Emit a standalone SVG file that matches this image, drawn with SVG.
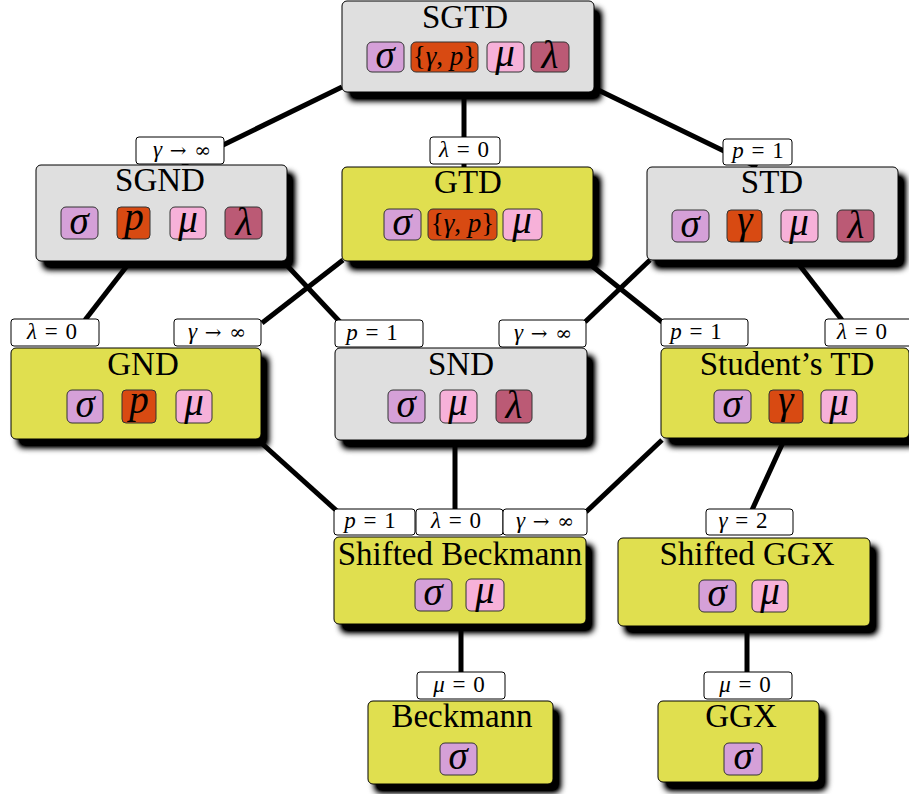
<svg xmlns="http://www.w3.org/2000/svg" width="909" height="794" viewBox="0 0 909 794">
<defs>
<filter id="sh" x="-10%" y="-10%" width="130%" height="140%">
<feGaussianBlur in="SourceAlpha" stdDeviation="3"/>
<feOffset dx="7" dy="8" result="b"/>
<feComponentTransfer in="b" result="c"><feFuncA type="linear" slope="1.4"/></feComponentTransfer>
<feMerge><feMergeNode in="c"/><feMergeNode in="SourceGraphic"/></feMerge>
</filter>
<style>
.gray{fill:#dfdfdf;stroke:#000;stroke-width:1;filter:url(#sh)}
.yel{fill:#e0df50;stroke:#000;stroke-width:1;filter:url(#sh)}
.title{font-family:"Liberation Serif","DejaVu Serif",serif;font-size:33px;text-anchor:middle;fill:#000}
.b{stroke:#333;stroke-width:1}
.sig{fill:#d5a0d8}.ora{fill:#d84a12}.mu{fill:#f7b1d9}.lam{fill:#bb5a75}
.sym{font-family:"Liberation Serif","DejaVu Serif",serif;font-style:italic;font-size:39px;text-anchor:middle;fill:#000}
.set{font-family:"Liberation Serif","DejaVu Serif",serif;font-size:27px;text-anchor:middle;fill:#000}
.it{font-style:italic}
.ar{font-family:"DejaVu Serif",serif;font-size:20px}
.edge{stroke:#000;stroke-width:5;fill:none}
.lb{fill:#fff;stroke:#000;stroke-width:1}
.lt{font-family:"Liberation Serif","DejaVu Serif",serif;font-size:23px;text-anchor:middle;fill:#000;word-spacing:2px}
</style>
</defs>
<rect width="909" height="794" fill="#fff"/>
<g id="connectors">
<line class="edge" x1="342" y1="87" x2="182" y2="165"/>
<line class="edge" x1="464" y1="92" x2="464" y2="167"/>
<line class="edge" x1="594" y1="88" x2="757" y2="167"/>
<line class="edge" x1="130" y1="262" x2="85" y2="320"/>
<line class="edge" x1="280" y1="258" x2="340" y2="322"/>
<line class="edge" x1="343" y1="260" x2="262" y2="323"/>
<line class="edge" x1="587" y1="262" x2="662" y2="322"/>
<line class="edge" x1="650" y1="260" x2="585" y2="322"/>
<line class="edge" x1="797" y1="262" x2="842" y2="320"/>
<line class="edge" x1="258" y1="440" x2="338" y2="512"/>
<line class="edge" x1="455" y1="440" x2="455" y2="510"/>
<line class="edge" x1="662" y1="440" x2="586" y2="512"/>
<line class="edge" x1="785" y1="438" x2="752" y2="510"/>
<line class="edge" x1="461" y1="624" x2="461" y2="672"/>
<line class="edge" x1="747" y1="626" x2="747" y2="672"/>
</g>
<g id="SGTD">
<rect class="gray" x="342" y="1" width="252" height="91" rx="5"/>
<text class="title" x="465" y="28">SGTD</text>
<rect class="b sig" x="367" y="42" width="37" height="30" rx="5"/><text class="sym" x="385" y="68">σ</text>
<rect class="b ora" x="411" y="42" width="67" height="30" rx="5"/><text class="set" x="444.500" y="65">{<tspan class="it">γ</tspan>, <tspan class="it">p</tspan>}</text>
<rect class="b mu" x="487" y="42" width="37" height="30" rx="5"/><text class="sym" x="505" y="66">μ</text>
<rect class="b lam" x="531" y="42" width="38" height="30" rx="5"/><text class="sym" x="550" y="68">λ</text>
</g>
<g id="SGND">
<rect class="gray" x="36" y="165" width="251" height="96" rx="5"/>
<text class="title" x="160" y="191">SGND</text>
<rect class="b sig" x="61" y="207" width="37" height="32" rx="5"/><text class="sym" x="79" y="234">σ</text>
<rect class="b ora" x="117" y="207" width="33" height="32" rx="4"/><text class="sym" x="134" y="230">p</text>
<rect class="b mu" x="170" y="207" width="36" height="32" rx="5"/><text class="sym" x="188" y="232">μ</text>
<rect class="b lam" x="225" y="207" width="37" height="32" rx="5"/><text class="sym" x="244" y="235">λ</text>
</g>
<g id="GTD">
<rect class="yel" x="342" y="167" width="251" height="94" rx="5"/>
<text class="title" x="468" y="193">GTD</text>
<rect class="b sig" x="384" y="209" width="37" height="31" rx="5"/><text class="sym" x="402" y="235">σ</text>
<rect class="b ora" x="428" y="209" width="69" height="31" rx="5"/><text class="set" x="462.500" y="232">{<tspan class="it">γ</tspan>, <tspan class="it">p</tspan>}</text>
<rect class="b mu" x="503" y="209" width="39" height="31" rx="5"/><text class="sym" x="522" y="233">μ</text>
</g>
<g id="STD">
<rect class="gray" x="647" y="167" width="251" height="93" rx="5"/>
<text class="title" x="772" y="193">STD</text>
<rect class="b sig" x="672" y="210" width="37" height="32" rx="5"/><text class="sym" x="690" y="237">σ</text>
<rect class="b ora" x="727" y="210" width="35" height="32" rx="4"/><text class="sym" x="745" y="233">γ</text>
<rect class="b mu" x="781" y="210" width="37" height="32" rx="5"/><text class="sym" x="799" y="235">μ</text>
<rect class="b lam" x="837" y="210" width="37" height="32" rx="5"/><text class="sym" x="856" y="238">λ</text>
</g>
<g id="GND">
<rect class="yel" x="11" y="348" width="250" height="91" rx="5"/>
<text class="title" x="143" y="375">GND</text>
<rect class="b sig" x="67" y="390" width="36" height="33" rx="5"/><text class="sym" x="85" y="417">σ</text>
<rect class="b ora" x="122" y="390" width="34" height="33" rx="4"/><text class="sym" x="139" y="413">p</text>
<rect class="b mu" x="176" y="390" width="36" height="33" rx="5"/><text class="sym" x="194" y="415">μ</text>
</g>
<g id="SND">
<rect class="gray" x="335" y="348" width="252" height="92" rx="5"/>
<text class="title" x="461" y="375">SND</text>
<rect class="b sig" x="388" y="390" width="37" height="33" rx="5"/><text class="sym" x="406" y="417">σ</text>
<rect class="b mu" x="440" y="390" width="37" height="33" rx="5"/><text class="sym" x="458" y="415">μ</text>
<rect class="b lam" x="496" y="390" width="36" height="33" rx="5"/><text class="sym" x="514" y="418">λ</text>
</g>
<g id="StudentsTD">
<rect class="yel" x="661" y="348" width="248" height="90" rx="5"/>
<text class="title" x="787" y="375">Student’s TD</text>
<rect class="b sig" x="714" y="390" width="37" height="33" rx="5"/><text class="sym" x="732" y="417">σ</text>
<rect class="b ora" x="769" y="390" width="34" height="33" rx="4"/><text class="sym" x="786" y="413">γ</text>
<rect class="b mu" x="821" y="390" width="36" height="33" rx="5"/><text class="sym" x="839" y="415">μ</text>
</g>
<g id="ShiftedBeckmann">
<rect class="yel" x="334" y="537" width="252" height="87" rx="5"/>
<text class="title" x="460" y="565">Shifted Beckmann</text>
<rect class="b sig" x="415" y="579" width="37" height="32" rx="5"/><text class="sym" x="433" y="605">σ</text>
<rect class="b mu" x="466" y="579" width="38" height="32" rx="5"/><text class="sym" x="485" y="603">μ</text>
</g>
<g id="ShiftedGGX">
<rect class="yel" x="618" y="538" width="252" height="88" rx="5"/>
<text class="title" x="747" y="565">Shifted GGX</text>
<rect class="b sig" x="699" y="580" width="37" height="32" rx="5"/><text class="sym" x="717" y="606">σ</text>
<rect class="b mu" x="752" y="580" width="36" height="32" rx="5"/><text class="sym" x="770" y="604">μ</text>
</g>
<g id="Beckmann">
<rect class="yel" x="368" y="701" width="185" height="83" rx="5"/>
<text class="title" x="462" y="727">Beckmann</text>
<rect class="b sig" x="440" y="743" width="37" height="32" rx="5"/><text class="sym" x="458" y="769">σ</text>
</g>
<g id="GGX">
<rect class="yel" x="658" y="701" width="161" height="81" rx="5"/>
<text class="title" x="741" y="727">GGX</text>
<rect class="b sig" x="724" y="743" width="38" height="32" rx="5"/><text class="sym" x="743" y="769">σ</text>
</g>
<g id="edge-labels">
<rect class="lb" x="136" y="137" width="88" height="27" rx="3"/><text class="lt" x="182" y="157"><tspan class="it">γ</tspan> <tspan class="ar">→</tspan> <tspan class="ar">∞</tspan></text>
<rect class="lb" x="430" y="137" width="70" height="27" rx="3"/><text class="lt" x="464" y="157"><tspan class="it">λ</tspan> = 0</text>
<rect class="lb" x="723" y="139" width="69" height="26" rx="3"/><text class="lt" x="758" y="158"><tspan class="it">p</tspan> = 1</text>
<rect class="lb" x="11" y="319" width="88" height="27" rx="3"/><text class="lt" x="52" y="339"><tspan class="it">λ</tspan> = 0</text>
<rect class="lb" x="174" y="319" width="87" height="27" rx="3"/><text class="lt" x="217" y="339"><tspan class="it">γ</tspan> <tspan class="ar">→</tspan> <tspan class="ar">∞</tspan></text>
<rect class="lb" x="335" y="320" width="88" height="27" rx="3"/><text class="lt" x="372" y="340"><tspan class="it">p</tspan> = 1</text>
<rect class="lb" x="499" y="320" width="87" height="27" rx="3"/><text class="lt" x="543" y="340"><tspan class="it">γ</tspan> <tspan class="ar">→</tspan> <tspan class="ar">∞</tspan></text>
<rect class="lb" x="661" y="319" width="87" height="27" rx="3"/><text class="lt" x="696" y="339"><tspan class="it">p</tspan> = 1</text>
<rect class="lb" x="825" y="319" width="88" height="27" rx="3"/><text class="lt" x="862" y="339"><tspan class="it">λ</tspan> = 0</text>
<rect class="lb" x="334" y="509" width="81" height="26" rx="3"/><text class="lt" x="370" y="528"><tspan class="it">p</tspan> = 1</text>
<rect class="lb" x="416" y="509" width="87" height="26" rx="3"/><text class="lt" x="456" y="528"><tspan class="it">λ</tspan> = 0</text>
<rect class="lb" x="503" y="509" width="84" height="26" rx="3"/><text class="lt" x="545" y="528"><tspan class="it">γ</tspan> <tspan class="ar">→</tspan> <tspan class="ar">∞</tspan></text>
<rect class="lb" x="706" y="509" width="87" height="26" rx="3"/><text class="lt" x="743" y="528"><tspan class="it">γ</tspan> = 2</text>
<rect class="lb" x="417" y="672" width="88" height="27" rx="3"/><text class="lt" x="459" y="692"><tspan class="it">μ</tspan> = 0</text>
<rect class="lb" x="704" y="672" width="88" height="27" rx="3"/><text class="lt" x="745" y="692"><tspan class="it">μ</tspan> = 0</text>
</g>
</svg>
